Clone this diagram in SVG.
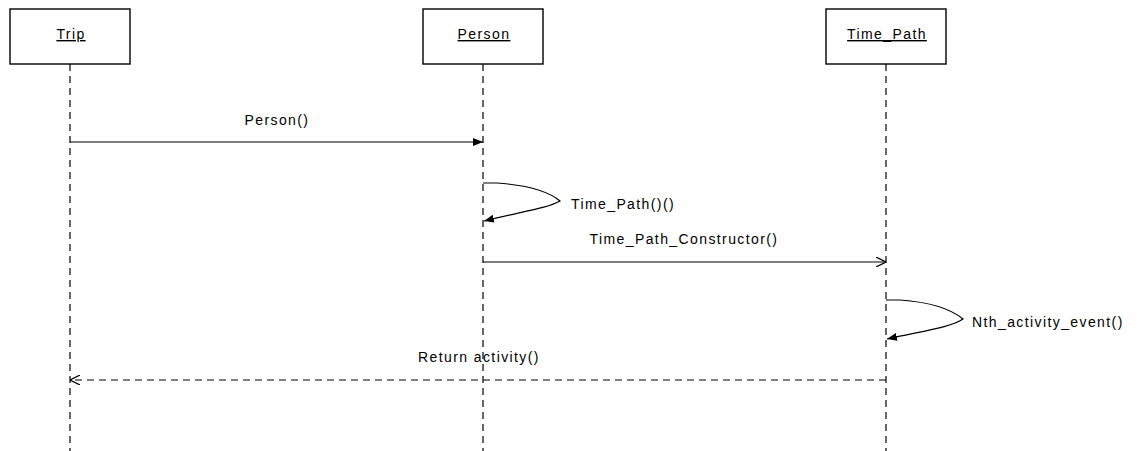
<svg xmlns="http://www.w3.org/2000/svg" width="1137" height="451" viewBox="0 0 1137 451">
<defs>
<style>
.box{fill:#fff;stroke:#000;stroke-width:1.4}
.life{stroke:#000;stroke-width:1.2;stroke-dasharray:7,5;fill:none}
.msg{stroke:#000;stroke-width:1.2;fill:none}
.ret{stroke:#000;stroke-width:1.2;fill:none;stroke-dasharray:7,5}
text{font-family:"Liberation Sans",Arial,sans-serif;font-size:14px;fill:#000;letter-spacing:1.4px}
.hdr{text-anchor:middle;text-decoration:underline}
.lbl{text-anchor:middle}
</style>
<marker id="fill" viewBox="0 0 10 8" refX="10" refY="4" markerWidth="10" markerHeight="8" markerUnits="userSpaceOnUse" orient="auto">
<path d="M0,0 L10,4 L0,8 z" fill="#000"/>
</marker>
<marker id="open" viewBox="0 0 10 10" refX="10" refY="5" markerWidth="10" markerHeight="10" markerUnits="userSpaceOnUse" orient="auto">
<path d="M0,0 L10,5 L0,10" fill="none" stroke="#000" stroke-width="1.2"/>
</marker>
</defs>
<rect width="1137" height="451" fill="#fff"/>
<g id="lifelines">
<line class="life" x1="70" y1="64" x2="70" y2="451"/>
<line class="life" x1="483" y1="64" x2="483" y2="451"/>
<line class="life" x1="886" y1="64" x2="886" y2="451"/>
</g>
<g id="trip">
<rect class="box" x="10" y="9" width="120" height="55"/>
<text class="hdr" x="71" y="39">Trip</text>
</g>
<g id="person">
<rect class="box" x="423" y="9" width="120" height="55"/>
<text class="hdr" x="484" y="39">Person</text>
</g>
<g id="time_path">
<rect class="box" x="826" y="9" width="120" height="55"/>
<text class="hdr" x="887" y="39">Time_Path</text>
</g>
<g id="connectors">
<line class="msg" x1="70" y1="142" x2="483" y2="142" marker-end="url(#fill)"/>
<text class="lbl" x="277" y="125">Person()</text>
<path class="msg" d="M483,183 L497,183 C525,185 548,191 560,201 C548,208 525,211 484,221" marker-end="url(#fill)"/>
<text x="571" y="209">Time_Path()()</text>
<line class="msg" x1="483" y1="262" x2="886" y2="262" marker-end="url(#open)"/>
<text class="lbl" x="684" y="244">Time_Path_Constructor()</text>
<path class="msg" d="M886,300 L900,300 C928,302 951,309 963,319 C951,327 928,330 887,339" marker-end="url(#fill)"/>
<text x="972" y="327">Nth_activity_event()</text>
<line class="ret" x1="886" y1="380" x2="70" y2="380" marker-end="url(#open)"/>
<text class="lbl" x="479" y="362">Return activity()</text>
</g>
</svg>
